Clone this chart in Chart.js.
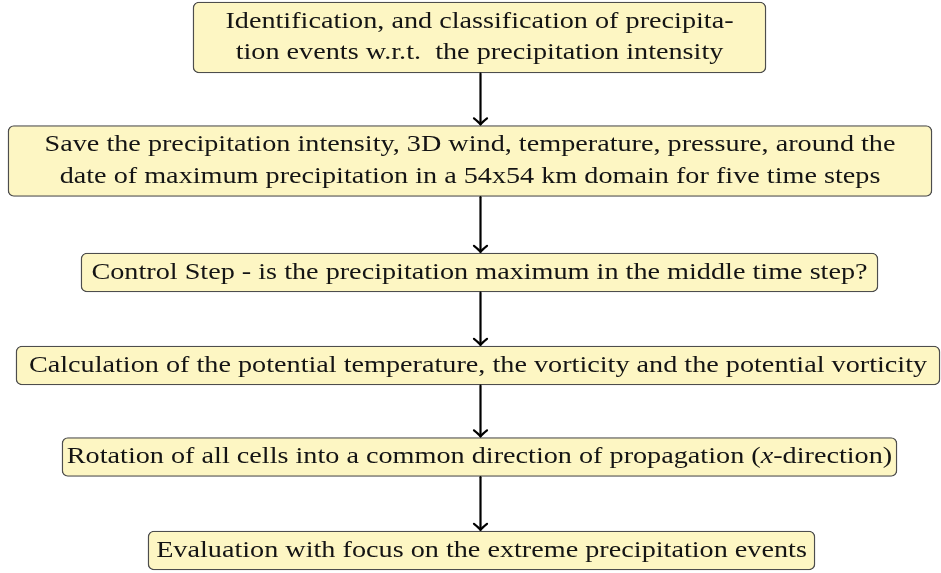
<!DOCTYPE html>
<html>
<head>
<meta charset="utf-8">
<script src="https://cdn.jsdelivr.net/npm/chart.js@4.4.1/dist/chart.umd.min.js"></script>
<style>
  html, body { margin: 0; padding: 0; background: #fff; }
  #wrap { width: 941px; height: 573px; position: relative; }
</style>
</head>
<body>
<div id="wrap"><canvas id="flow"></canvas></div>
<script>
// Flow steps (text lines, *x* = italic)
var steps = [
    ["Identification, and classification of precipita-", "tion events w.r.t.  the precipitation intensity"],
    ["Save the precipitation intensity, 3D wind, temperature, pressure, around the", "date of maximum precipitation in a 54x54 km domain for five time steps"],
    ["Control Step - is the precipitation maximum in the middle time step?"],
    ["Calculation of the potential temperature, the vorticity and the potential vorticity"],
    ["Rotation of all cells into a common direction of propagation (*x*-direction)"],
    ["Evaluation with focus on the extreme precipitation events"]
];
// box extent along the horizontal axis and row centre on the vertical axis
var boxStart = [193, 8, 81, 16, 62, 148];
var boxEnd = [766, 932, 878, 940, 897, 815];
var rowCenter = [37.5, 161, 272.5, 365.5, 457, 550.5];
var arrowAt = 480.5;

var FONT = '"Liberation Serif", "DejaVu Serif", serif';
var FONT_SIZE = 23.5;
var STRETCH = 1.2; // serif face is narrower than the original's

function rows(nLines) {
    var out = [];
    steps.forEach(function (s, i) {
        if (s.length === nLines) out.push({ x: [boxStart[i], boxEnd[i]], y: rowCenter[i], step: i });
    });
    return out;
}

var boxStyle = {
    backgroundColor: "#fdf6c3",
    borderColor: "#4d4d4d",
    borderWidth: 1.4,
    borderRadius: 6,
    borderSkipped: false,
    grouped: false,
    clip: false
};

function drawLine(ctx, text, cx, baseY) {
    var parts = text.split("*");
    var widths = parts.map(function (p, k) {
        ctx.font = (k % 2 ? "italic " : "") + FONT_SIZE + "px " + FONT;
        return ctx.measureText(p).width;
    });
    var total = widths.reduce(function (a, b) { return a + b; }, 0);
    ctx.save();
    ctx.translate(cx, baseY);
    ctx.scale(STRETCH, 1);
    var x = -total / 2;
    parts.forEach(function (p, k) {
        ctx.font = (k % 2 ? "italic " : "") + FONT_SIZE + "px " + FONT;
        ctx.fillText(p, x, 0);
        x += widths[k];
    });
    ctx.restore();
}

var flowPlugin = {
    id: "flow",
    afterDatasetsDraw: function (chart) {
        var ctx = chart.ctx;
        var boxes = [];
        chart.data.datasets.forEach(function (ds, di) {
            chart.getDatasetMeta(di).data.forEach(function (el, j) {
                var p = el.getProps(["x", "y", "base", "height"], true);
                boxes[ds.data[j].step] = {
                    cx: (p.x + p.base) / 2, cy: p.y,
                    top: p.y - p.height / 2, bottom: p.y + p.height / 2
                };
            });
        });
        ctx.save();
        ctx.fillStyle = "#141414";
        ctx.textBaseline = "alphabetic";
        ctx.textAlign = "left";
        boxes.forEach(function (b, i) {
            var lines = steps[i];
            var gap = 31.5;
            lines.forEach(function (t, k) {
                drawLine(ctx, t, b.cx, b.cy + 6 + (k - (lines.length - 1) / 2) * gap);
            });
        });
        // arrows
        var ax = chart.scales.x.getPixelForValue(arrowAt);
        ctx.strokeStyle = "#000";
        ctx.lineWidth = 2.2;
        ctx.lineCap = "round";
        ctx.lineJoin = "round";
        for (var i = 0; i < boxes.length - 1; i++) {
            var y0 = boxes[i].bottom + 0.7, y1 = boxes[i + 1].top - 1.2;
            ctx.beginPath();
            ctx.moveTo(ax, y0);
            ctx.lineTo(ax, y1);
            ctx.stroke();
            ctx.beginPath();
            ctx.moveTo(ax - 6.5, y1 - 6);
            ctx.quadraticCurveTo(ax - 1.5, y1 - 2, ax, y1);
            ctx.quadraticCurveTo(ax + 1.5, y1 - 2, ax + 6.5, y1 - 6);
            ctx.stroke();
        }
        ctx.restore();
    }
};

new Chart(document.getElementById("flow"), {
    type: "bar",
    data: {
        datasets: [
            Object.assign({ data: rows(2), barThickness: 71 }, boxStyle),
            Object.assign({ data: rows(1), barThickness: 39 }, boxStyle)
        ]
    },
    options: {
        indexAxis: "y",
        responsive: true,
        maintainAspectRatio: false,
        animation: false,
        events: [],
        layout: { padding: 0 },
        scales: {
            x: { type: "linear", min: 0, max: 941, display: false },
            y: { type: "linear", min: 0, max: 573, reverse: true, offset: false, display: false }
        },
        plugins: {
            legend: { display: false },
            tooltip: { enabled: false }
        }
    },
    plugins: [flowPlugin]
});
</script>
</body>
</html>
